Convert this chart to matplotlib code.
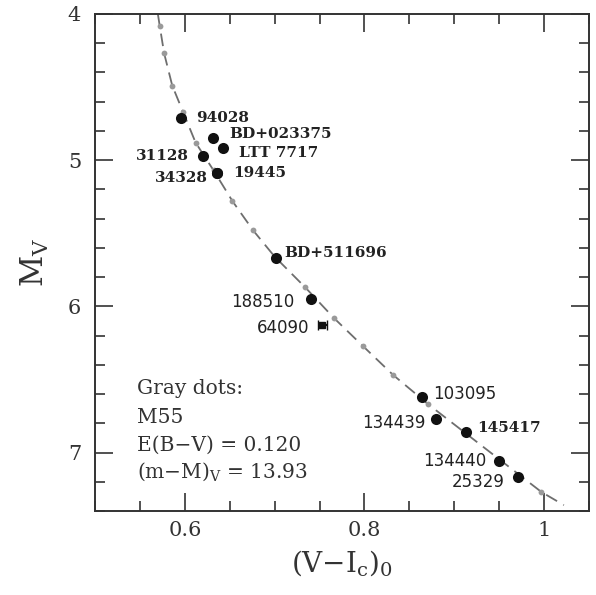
import matplotlib
matplotlib.use("Agg")
import matplotlib.pyplot as plt
from matplotlib.ticker import MultipleLocator

# M55 fiducial (dashed line)
fid_vi = [0.570, 0.572, 0.577, 0.586, 0.598, 0.612, 0.632, 0.653, 0.676, 0.700,
          0.734, 0.766, 0.798, 0.832, 0.871, 0.997, 1.022]
fid_mv = [4.00, 4.08, 4.27, 4.49, 4.67, 4.88, 5.07, 5.28, 5.48, 5.66,
          5.87, 6.08, 6.27, 6.47, 6.67, 7.27, 7.36]

# gray dots (M55)
gray_vi = [0.572, 0.577, 0.586, 0.598, 0.612, 0.632, 0.653, 0.676,
           0.734, 0.766, 0.798, 0.832, 0.871, 0.997]
gray_mv = [4.08, 4.27, 4.49, 4.67, 4.88, 5.07, 5.28, 5.48,
           5.87, 6.08, 6.27, 6.47, 6.67, 7.27]

# field stars
star_names = ["94028", "BD+023375", "LTT 7717", "31128", "34328", "19445",
              "BD+511696", "188510", "64090", "103095", "134439", "145417",
              "134440", "25329"]
star_vi = [0.596, 0.631, 0.642, 0.620, 0.636, 0.636,
           0.701, 0.740, 0.753, 0.864, 0.880, 0.913, 0.950, 0.971]
star_mv = [4.71, 4.85, 4.92, 4.97, 5.09, 5.09,
           5.67, 5.95, 6.13, 6.62, 6.77, 6.86, 7.06, 7.17]

# label offsets (points)
offsets = [(11, 0), (12, 3), (11.5, -3), (-10, 0), (-6.5, -3.5), (11.5, 0),
           (6, 3.5), (-12, -2), (-9, -2), (8, 2), (-8, -3), (8, 3),
           (-9, 0.5), (-10, -3.5)]
serif_names = {"94028", "BD+023375", "LTT 7717", "31128", "34328", "19445",
               "BD+511696", "145417"}

info_lines = ["Gray dots:", "M55", "E(B\u2212V) = 0.120",
              "(m\u2212M)$_\\mathregular{V}$ = 13.93"]
info_mv = [6.60, 6.80, 6.99, 7.17]

fig = plt.figure(figsize=(5.96, 5.95), dpi=100)
ax = fig.add_axes([0.1594, 0.1412, 0.8289, 0.8353])

ax.plot(fid_vi, fid_mv, color="#6e6e6e", lw=1.3, dashes=(7, 4), zorder=1)
ax.plot(gray_vi, gray_mv, "o", color="#9a9a9a", ms=4.2, mec="none", zorder=2)
ax.plot(star_vi[:8] + star_vi[9:], star_mv[:8] + star_mv[9:], "o",
        color="#111111", ms=8, mec="none", zorder=3)
ax.errorbar([star_vi[8]], [star_mv[8]], xerr=0.005, fmt="s", color="#111111",
            ms=4.5, capsize=3.5, lw=1.6, zorder=3)

for name, x, y, (dx, dy) in zip(star_names, star_vi, star_mv, offsets):
    ha = "left" if dx > 0 else "right"
    if name in serif_names:
        fam, wt, fs = "DejaVu Serif", "bold", 11
    else:
        fam, wt, fs = "DejaVu Sans", "normal", 12
    ax.annotate(name, (x, y), xytext=(dx, dy), textcoords="offset points",
                ha=ha, va="center", fontsize=fs, family=fam, weight=wt,
                color="#222222")

for line, y in zip(info_lines, info_mv):
    ax.text(0.5467, y, line, fontsize=14.5, family="DejaVu Serif",
            color="#333333", va="baseline", ha="left")

ax.set_xlim(0.5, 1.05)
ax.set_ylim(7.4, 4.0)
ax.xaxis.set_minor_locator(MultipleLocator(0.05))
ax.yaxis.set_minor_locator(MultipleLocator(0.2))
ax.set_xticks([0.6, 0.8, 1.0])
ax.set_xticklabels(["0.6", "0.8", "1"])
ax.set_yticks([4, 5, 6, 7])
ax.set_yticklabels(["4", "5", "6", "7"])

ax.tick_params(which="both", direction="in", top=True, right=True,
               color="#333333", width=1.2)
ax.tick_params(which="major", length=13, labelsize=15)
ax.tick_params(axis="x", which="major", pad=7)
ax.tick_params(axis="y", which="major", pad=10)
ax.tick_params(which="minor", length=7)
for lab in ax.get_xticklabels() + ax.get_yticklabels():
    lab.set_family("DejaVu Serif")
    lab.set_color("#333333")
for side in ax.spines.values():
    side.set_color("#333333")
    side.set_linewidth(1.4)

ax.set_xlabel("(V\u2212I$_\\mathregular{c}$)$_\\mathregular{0}$", fontsize=20,
              family="DejaVu Serif", color="#333333", labelpad=6)
ax.set_ylabel("M$_\\mathregular{V}$", fontsize=22, family="DejaVu Serif",
              color="#333333", labelpad=12)

fig.savefig("out.png", dpi=100)
